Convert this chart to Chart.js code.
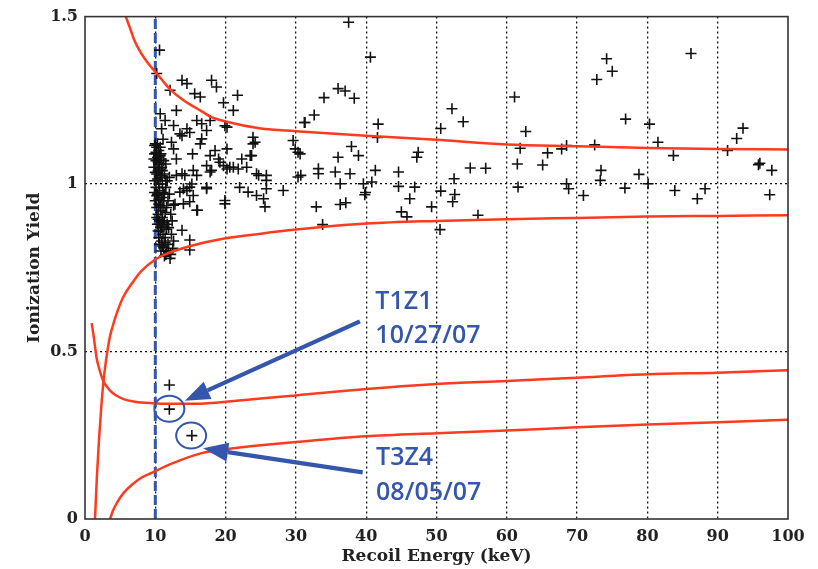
<!DOCTYPE html>
<html>
<head>
<meta charset="utf-8">
<title>Ionization Yield vs Recoil Energy</title>
<script src="https://cdn.jsdelivr.net/npm/chart.js@4/dist/chart.umd.min.js"></script>
<style>
    html, body { margin: 0; padding: 0; background: #fff; }
    #wrap { width: 818px; height: 569px; position: relative; }
</style>
</head>
<body>
<div id="wrap"><canvas id="yieldChart"></canvas></div>
<script>
"use strict";

// Axis ticks.
var xTicks = [0, 10, 20, 30, 40, 50, 60, 70, 80, 90, 100];
var yTicks = [0, 0.5, 1, 1.5];

// Recoil energy threshold (keV).
var threshold = 10;

// Events: [recoil energy keV, ionization yield].
var clusterEvents = [
    [10.0, 1.12], [10.2, 1.11], [10.5, 1.10], [9.9, 1.09], [10.3, 1.08], [10.8, 1.09], [10.1, 1.07],
    [10.6, 1.06], [11.2, 1.07], [9.8, 1.05], [10.4, 1.04], [10.9, 1.05], [10.2, 1.03], [10.7, 1.02],
    [11.3, 1.03], [9.9, 1.01], [10.5, 1.00], [11.0, 1.00], [10.1, 0.99], [10.6, 0.98], [11.5, 0.99],
    [10.3, 0.97], [10.9, 0.96], [10.0, 0.95], [10.5, 0.94], [11.2, 0.95], [10.2, 0.93], [10.8, 0.92],
    [11.6, 0.93], [10.4, 0.91], [11.0, 0.90], [10.6, 0.89], [11.3, 0.89], [10.3, 0.88], [10.9, 0.87],
    [11.7, 0.88], [10.7, 0.86], [11.1, 0.85], [10.5, 0.84], [11.4, 0.84], [10.9, 0.83], [11.8, 0.82],
    [11.2, 0.81], [10.8, 0.80], [11.6, 0.80], [11.5, 0.79], [12.2, 0.79], [11.0, 1.04], [11.7, 1.01],
    [12.0, 0.97], [11.8, 0.95], [12.2, 0.91], [11.9, 0.87], [12.3, 0.85], [12.6, 0.83], [11.5, 1.06],
    [10.7, 1.11], [10.3, 1.12], [11.1, 0.93], [10.2, 0.90], [10.6, 0.82], [12.4, 0.89], [12.0, 1.02],
    [12.8, 0.94], [11.3, 0.97], [10.4, 0.86], [9.9, 1.115], [10.1, 1.095], [10.4, 1.065], [10.0, 1.035],
    [10.3, 1.015], [10.6, 1.045], [10.8, 1.075], [10.2, 0.965], [10.5, 0.955], [10.7, 0.935], [10.4, 0.895],
    [10.8, 0.875], [11.1, 0.885], [11.0, 0.815], [11.4, 0.825], [11.1, 0.975], [11.4, 0.915], [11.6, 0.865],
    [11.9, 0.80], [11.5, 1.01], [10.9, 1.025], [9.8, 1.075], [9.9, 0.975], [11.3, 0.785], [10.5, 1.085]
];

var lowEnergyEvents = [
    [10.6, 1.40], [10.2, 1.33], [12.1, 1.28], [13.8, 1.31], [14.5, 1.30], [18.0, 1.31], [18.7, 1.29],
    [15.6, 1.27], [16.4, 1.26], [21.7, 1.265], [21.1, 1.22], [13.0, 1.22], [10.7, 1.21], [11.4, 1.19],
    [10.9, 1.165], [12.6, 1.175], [13.5, 1.15], [14.5, 1.165], [15.9, 1.19], [16.6, 1.18], [17.8, 1.19],
    [20.2, 1.17], [17.3, 1.16], [16.6, 1.135], [16.4, 1.12], [15.3, 1.09], [12.6, 1.105], [23.9, 1.14],
    [24.2, 1.125], [29.6, 1.13], [29.9, 1.105], [30.3, 1.095], [20.2, 1.105], [18.5, 1.10], [19.0, 1.075],
    [19.7, 1.055], [20.2, 1.045], [21.1, 1.05], [23.0, 1.05], [23.7, 1.085], [22.3, 1.075], [17.3, 1.055],
    [17.8, 1.036], [15.9, 1.026], [15.2, 1.00], [14.2, 1.026], [13.0, 1.026], [24.7, 1.026], [25.8, 1.026],
    [22.0, 0.99], [23.2, 0.976], [24.4, 0.966], [25.4, 0.956], [25.8, 0.986], [25.6, 0.932], [28.2, 0.981],
    [19.9, 0.941], [17.3, 0.99], [14.5, 0.98], [13.5, 0.976], [15.4, 0.966], [14.9, 0.947], [16.0, 0.922],
    [12.6, 0.937], [13.8, 0.862], [14.9, 0.803], [14.0, 0.986], [14.9, 0.991], [17.3, 0.986], [14.0, 0.941],
    [15.9, 0.922], [14.9, 0.833], [12.1, 0.778], [12.5, 0.808], [11.1, 1.134], [12.3, 1.125], [13.8, 1.144],
    [14.9, 1.154], [13.0, 1.075], [10.7, 1.085], [17.8, 1.085], [15.4, 1.041], [13.8, 1.031], [18.0, 1.041],
    [19.2, 1.065], [19.7, 1.243], [19.9, 1.174], [23.9, 1.12], [23.5, 1.085], [24.4, 1.031], [25.8, 1.011],
    [31.3, 1.184], [30.3, 1.021], [19.9, 0.951], [20.6, 1.05], [21.8, 1.045]
];

var highEnergyEvents = [
    [37.5, 1.483], [40.6, 1.379], [34.0, 1.258], [36.0, 1.285], [37.0, 1.278], [38.3, 1.256], [32.6, 1.206],
    [31.2, 1.184], [41.7, 1.179], [41.6, 1.139], [52.2, 1.225], [53.8, 1.186], [50.6, 1.166], [61.1, 1.26],
    [62.7, 1.157], [61.9, 1.107], [72.8, 1.312], [74.2, 1.374], [75.0, 1.337], [86.2, 1.39], [76.9, 1.194],
    [80.3, 1.179], [81.5, 1.125], [83.7, 1.085], [93.6, 1.167], [92.7, 1.136], [91.4, 1.10], [95.8, 1.058],
    [96.0, 1.062], [97.7, 1.041], [97.4, 0.968], [72.5, 1.117], [68.5, 1.115], [67.8, 1.105], [65.8, 1.093],
    [65.1, 1.057], [61.5, 1.06], [61.6, 0.991], [54.8, 1.048], [57.0, 1.047], [52.5, 1.016], [52.6, 0.969],
    [52.3, 0.947], [50.6, 0.979], [49.3, 0.932], [50.5, 0.864], [55.9, 0.907], [47.2, 1.08], [47.4, 1.095],
    [44.6, 1.036], [44.6, 0.993], [46.9, 0.991], [46.2, 0.956], [45.0, 0.917], [45.8, 0.902], [41.3, 1.041],
    [40.8, 1.006], [39.6, 1.001], [39.8, 0.968], [39.9, 0.975], [37.7, 1.031], [35.6, 1.036], [33.2, 1.046],
    [33.2, 1.031], [36.3, 1.001], [36.0, 1.08], [37.9, 1.112], [38.9, 1.085], [32.9, 0.932], [36.3, 0.939],
    [37.1, 0.944], [33.8, 0.879], [68.5, 1.001], [68.8, 0.986], [70.9, 0.966], [73.4, 1.041], [73.3, 1.011],
    [76.8, 0.988], [78.8, 1.029], [80.1, 1.001], [83.9, 0.981], [87.1, 0.956], [88.2, 0.986], [30.6, 1.09],
    [30.7, 1.026]
];

// Nuclear-recoil candidates; the last two are the circled ones.
var candidateEvents = [[12.0, 0.40], [12.0, 0.328], [15.2, 0.249]];

// Electron-recoil band edges.
var erUpperX = [5.8, 6.5, 7, 8, 9, 10, 11, 12, 14, 16, 18, 20, 25, 30, 40, 50, 60, 70, 80, 90, 100];
var erUpperY = [1.5, 1.46, 1.43, 1.39, 1.36, 1.335, 1.31, 1.285, 1.25, 1.225, 1.2, 1.187, 1.166, 1.158,
    1.144, 1.132, 1.118, 1.113, 1.108, 1.105, 1.103];
var erLowerX = [1.42, 1.55, 1.7, 2.0, 2.3, 2.6, 3.0, 3.5, 4.0, 4.7, 5.5, 6.9, 8, 10, 12, 15, 20, 25, 30,
    40, 50, 60, 70, 80, 90, 100];
var erLowerY = [0, 0.06, 0.13, 0.24, 0.33, 0.405, 0.475, 0.54, 0.58, 0.625, 0.665, 0.71, 0.74, 0.775, 0.795,
    0.815, 0.838, 0.852, 0.864, 0.882, 0.89, 0.895, 0.899, 0.903, 0.905, 0.907];

// Nuclear-recoil band edges.
var nrUpperX = [0.95, 1.2, 1.66, 2.0, 2.6, 3.5, 4.5, 5.5, 6.9, 8.5, 10, 12, 14, 17, 20, 25, 30, 40, 50,
    60, 70, 80, 90, 100];
var nrUpperY = [0.585, 0.55, 0.48, 0.45, 0.412, 0.385, 0.368, 0.358, 0.351, 0.347, 0.345, 0.344, 0.344,
    0.345, 0.35, 0.36, 0.369, 0.388, 0.403, 0.412, 0.422, 0.432, 0.437, 0.444];
var nrLowerX = [3.56, 4.0, 4.5, 5.5, 6.9, 8, 9.7, 11.5, 13.5, 15.5, 17.3, 20, 25, 30, 40, 50, 60, 70, 80,
    90, 100];
var nrLowerY = [0, 0.026, 0.047, 0.078, 0.106, 0.123, 0.14, 0.158, 0.175, 0.19, 0.2, 0.208, 0.22, 0.23,
    0.247, 0.256, 0.264, 0.274, 0.282, 0.289, 0.296];

// Callouts for the two candidates: circle centre, arrow tail/tip, label lines.
var calloutNames = ['T1Z1', 'T3Z4'];
var calloutDates = ['10/27/07', '08/05/07'];
var calloutCircle = [[12.0, 0.329], [15.1, 0.249]];
var calloutArrowFrom = [[39.1, 0.59], [39.5, 0.139]];
var calloutArrowTo = [[14.2, 0.353], [16.8, 0.211]];
var calloutTextAt = [[41.3, 0.627], [41.4, 0.16]];
var calloutDateAt = [[41.3, 0.526], [41.4, 0.056]];

var RED = '#ff3b1f';
var BLUE = '#3556ad';
var SERIF = '"DejaVu Serif", "Liberation Serif", serif';

function toPoints(pairs) {
    return pairs.map(function(p) { return {x: p[0], y: p[1]}; });
}

function zipPoints(xs, ys) {
    return xs.map(function(x, i) { return {x: x, y: ys[i]}; });
}

function curve(xs, ys) {
    return {
        data: zipPoints(xs, ys),
        showLine: true,
        borderColor: RED,
        borderWidth: 2.5,
        pointRadius: 0,
        cubicInterpolationMode: 'monotone',
        fill: false
    };
}

function markers(pairs) {
    return {
        data: toPoints(pairs),
        pointStyle: 'cross',
        pointRadius: 5.5,
        borderColor: '#111',
        borderWidth: 1.6,
        showLine: false
    };
}

// Frame around the plot area, MATLAB style.
var frame = {
    id: 'frame',
    afterDraw: function(chart) {
        var a = chart.chartArea;
        var ctx = chart.ctx;
        ctx.save();
        ctx.strokeStyle = '#333';
        ctx.lineWidth = 1.6;
        ctx.strokeRect(a.left, a.top, a.right - a.left, a.bottom - a.top);
        ctx.restore();
    }
};

// Circles, arrows and labels for the candidate events, placed in data units.
var callouts = {
    id: 'callouts',
    afterDatasetsDraw: function(chart) {
        var xs = chart.scales.x;
        var ys = chart.scales.y;
        var ctx = chart.ctx;
        ctx.save();
        ctx.strokeStyle = BLUE;
        ctx.fillStyle = BLUE;

        calloutCircle.forEach(function(c) {
            ctx.beginPath();
            ctx.lineWidth = 2;
            ctx.ellipse(xs.getPixelForValue(c[0]), ys.getPixelForValue(c[1]), 15, 13, 0, 0, Math.PI * 2);
            ctx.stroke();
        });

        calloutArrowFrom.forEach(function(from, i) {
            var x0 = xs.getPixelForValue(from[0]);
            var y0 = ys.getPixelForValue(from[1]);
            var x1 = xs.getPixelForValue(calloutArrowTo[i][0]);
            var y1 = ys.getPixelForValue(calloutArrowTo[i][1]);
            var ang = Math.atan2(y1 - y0, x1 - x0);
            var headLen = 25;
            var headHalf = 9.5;
            var bx = x1 - headLen * Math.cos(ang);
            var by = y1 - headLen * Math.sin(ang);

            ctx.beginPath();
            ctx.lineWidth = 4.2;
            ctx.moveTo(x0, y0);
            ctx.lineTo(bx, by);
            ctx.stroke();

            ctx.beginPath();
            ctx.moveTo(x1, y1);
            ctx.lineTo(bx + headHalf * Math.sin(ang), by - headHalf * Math.cos(ang));
            ctx.lineTo(bx - headHalf * Math.sin(ang), by + headHalf * Math.cos(ang));
            ctx.closePath();
            ctx.fill();
        });

        ctx.font = '600 25px "Open Sans", Lato, sans-serif';
        ctx.textAlign = 'left';
        ctx.textBaseline = 'alphabetic';
        calloutNames.forEach(function(name, i) {
            ctx.fillText(name, xs.getPixelForValue(calloutTextAt[i][0]), ys.getPixelForValue(calloutTextAt[i][1]));
            ctx.fillText(calloutDates[i], xs.getPixelForValue(calloutDateAt[i][0]),
                ys.getPixelForValue(calloutDateAt[i][1]));
        });
        ctx.restore();
    }
};

function innerGrid(ctx) {
    var v = ctx.tick ? ctx.tick.value : null;
    var s = ctx.scale;
    if (v === null || v === s.min || v === s.max) {
        return 'rgba(0,0,0,0)';
    }
    return '#111';
}

new Chart(document.getElementById('yieldChart').getContext('2d'), {
    type: 'scatter',
    data: {
        datasets: [
            curve(erUpperX, erUpperY),
            curve(erLowerX, erLowerY),
            curve(nrUpperX, nrUpperY),
            curve(nrLowerX, nrLowerY),
            markers(clusterEvents),
            markers(lowEnergyEvents),
            markers(highEnergyEvents),
            markers(candidateEvents),
            {
                data: [{x: threshold, y: 0}, {x: threshold, y: 1.5}],
                showLine: true,
                borderColor: BLUE,
                borderWidth: 3,
                borderDash: [10, 4],
                pointRadius: 0
            }
        ]
    },
    options: {
        responsive: true,
        maintainAspectRatio: false,
        animation: false,
        layout: {
            padding: {left: 0, right: 30, top: 14, bottom: 0}
        },
        plugins: {
            legend: {display: false},
            tooltip: {enabled: false}
        },
        scales: {
            x: {
                type: 'linear',
                min: 0,
                max: 100,
                afterBuildTicks: function(scale) {
                    scale.ticks = xTicks.map(function(v) { return {value: v}; });
                },
                afterFit: function(scale) {
                    scale.height = 50;
                },
                grid: {
                    color: innerGrid,
                    lineWidth: 1.3,
                    drawTicks: false
                },
                border: {display: false, dash: [2, 3]},
                ticks: {
                    color: '#222',
                    padding: 8,
                    maxRotation: 0,
                    callback: function(value) { return String(value); },
                    font: {family: SERIF, size: 16, weight: 'bold'}
                },
                title: {
                    display: true,
                    text: 'Recoil Energy (keV)',
                    color: '#222',
                    padding: {top: 0, bottom: 2},
                    font: {family: SERIF, size: 17, weight: 'bold'}
                }
            },
            y: {
                type: 'linear',
                min: 0,
                max: 1.5,
                afterBuildTicks: function(scale) {
                    scale.ticks = yTicks.map(function(v) { return {value: v}; });
                },
                afterFit: function(scale) {
                    scale.width = 85;
                },
                grid: {
                    color: innerGrid,
                    lineWidth: 1.3,
                    drawTicks: false
                },
                border: {display: false, dash: [2, 3]},
                ticks: {
                    color: '#222',
                    padding: 7,
                    callback: function(value) { return String(value); },
                    font: {family: SERIF, size: 16, weight: 'bold'}
                },
                title: {
                    display: true,
                    text: 'Ionization Yield',
                    color: '#222',
                    padding: {top: 24, bottom: 0},
                    font: {family: SERIF, size: 17, weight: 'bold'}
                }
            }
        }
    },
    plugins: [frame, callouts]
});
</script>
</body>
</html>
